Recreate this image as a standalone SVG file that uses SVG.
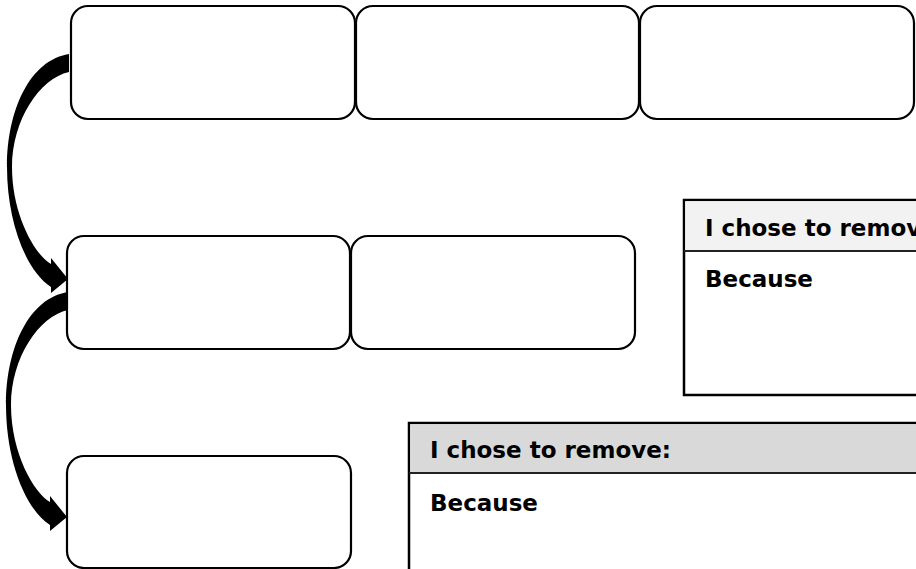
<svg xmlns="http://www.w3.org/2000/svg" xmlns:xlink="http://www.w3.org/1999/xlink" width="916" height="569" viewBox="0 0 916 569">
  <style>
    .box { fill: #ffffff; stroke: #000000; stroke-width: 2.2; }
    .tbl { fill: #ffffff; stroke: #000000; stroke-width: 2.5; }
    .div { stroke: #222222; stroke-width: 2.2; }
    .lbl { font-family: "DejaVu Sans", "Liberation Sans", sans-serif; font-weight: bold; font-size: 23px; fill: #000000; }
    .arrow { fill: #000000; stroke: none; }
  </style>
  <defs>
    <path id="curvedArrow" d="M 69,54 C 30,60 7,110 7,167 C 7,220 25,270 51,287 L 51,293 L 68,279 L 51,258 L 51,264 C 35,255 12,215 12,167 C 12,120 40,78 69,72 Z"/>
  </defs>
  <rect width="916" height="569" fill="#ffffff"/>

  <g id="connectors">
    <use xlink:href="#curvedArrow" class="arrow"/>
    <use xlink:href="#curvedArrow" class="arrow" transform="translate(-1,238)"/>
  </g>

  <g id="row1-box1"><rect class="box" x="71" y="6" width="284" height="113" rx="17" ry="17"/></g>
  <g id="row1-box2"><rect class="box" x="356" y="6" width="283" height="113" rx="17" ry="17"/></g>
  <g id="row1-box3"><rect class="box" x="640" y="6" width="274" height="113" rx="17" ry="17"/></g>

  <g id="row2-box1"><rect class="box" x="67" y="236" width="283" height="113" rx="17" ry="17"/></g>
  <g id="row2-box2"><rect class="box" x="351" y="236" width="284" height="113" rx="17" ry="17"/></g>

  <g id="row3-box1"><rect class="box" x="67" y="456" width="284" height="112" rx="17" ry="17"/></g>

  <g id="table1">
    <rect class="tbl" x="684" y="200" width="260" height="195"/>
    <rect x="685.2" y="201.2" width="240" height="49" fill="#f2f2f2"/>
    <line class="div" x1="684" y1="251" x2="930" y2="251"/>
    <text class="lbl" x="705" y="236">I chose to remove:</text>
    <text class="lbl" x="705" y="287">Because</text>
  </g>

  <g id="table2">
    <rect class="tbl" x="409" y="423" width="530" height="200"/>
    <rect x="410.2" y="424.2" width="520" height="48" fill="#d9d9d9"/>
    <line class="div" x1="409" y1="473" x2="930" y2="473"/>
    <text class="lbl" x="430" y="458">I chose to remove:</text>
    <text class="lbl" x="430" y="511">Because</text>
  </g>
</svg>
